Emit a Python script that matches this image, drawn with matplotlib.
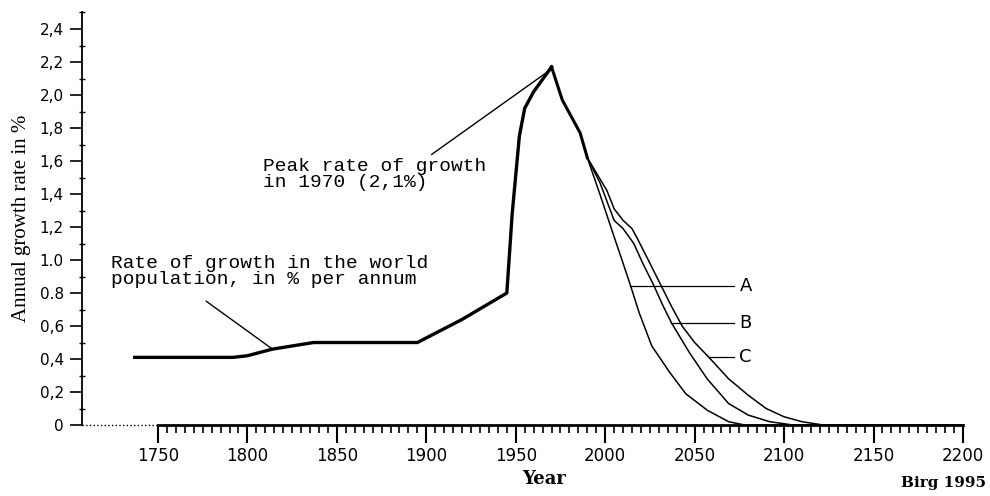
import matplotlib.pyplot as plt
from matplotlib.ticker import MultipleLocator, FixedLocator

# world population growth rate, % per annum
hist_years = [1737, 1792, 1800, 1814, 1837, 1846, 1895, 1920, 1945, 1948, 1952, 1955, 1960, 1970]
hist_rate = [0.41, 0.41, 0.42, 0.46, 0.50, 0.50, 0.50, 0.64, 0.80, 1.28, 1.75, 1.92, 2.02, 2.17]

common_years = [1970, 1976, 1986, 1990]
common_rate = [2.17, 1.97, 1.77, 1.62]

a_years = [1990, 1997, 2005, 2010, 2014, 2019, 2026, 2036, 2045, 2057, 2069, 2078, 2200]
a_rate = [1.62, 1.40, 1.14, 0.98, 0.85, 0.68, 0.48, 0.32, 0.19, 0.09, 0.02, 0.0, 0.0]

b_years = [1990, 1997, 2005, 2010, 2016, 2021, 2027, 2032, 2037, 2047, 2057, 2069, 2080, 2092, 2105, 2200]
b_rate = [1.62, 1.47, 1.24, 1.19, 1.10, 0.98, 0.85, 0.73, 0.62, 0.44, 0.28, 0.13, 0.06, 0.02, 0.0, 0.0]

c_years = [1990, 2001, 2005, 2010, 2015, 2018, 2025, 2031, 2037, 2043, 2050, 2058, 2069, 2080, 2090, 2100, 2110, 2122, 2200]
c_rate = [1.62, 1.42, 1.31, 1.24, 1.19, 1.13, 0.98, 0.85, 0.72, 0.60, 0.50, 0.41, 0.28, 0.18, 0.10, 0.05, 0.02, 0.0, 0.0]

scen_names = ['A', 'B', 'C']
scen_label_y = [0.84, 0.62, 0.41]
scen_label_x0 = [2014, 2037, 2058]

ytick_vals = [0, 0.2, 0.4, 0.6, 0.8, 1.0, 1.2, 1.4, 1.6, 1.8, 2.0, 2.2, 2.4]
ytick_text = ['0', '0,2', '0,4', '0,6', '0.8', '1.0', '1,2', '1,4', '1,6', '1,8', '2,0', '2,2', '2,4']
xtick_vals = [1750, 1800, 1850, 1900, 1950, 2000, 2050, 2100, 2150, 2200]

fig = plt.figure(figsize=(9.9, 4.96), dpi=100)
ax = fig.add_axes([0.0828, 0.1431, 0.8899, 0.8317])

ax.plot(hist_years, hist_rate, color='black', lw=2.4, solid_joinstyle='round')
ax.plot(common_years, common_rate, color='black', lw=2.2, solid_joinstyle='round')
for yrs, rate in [(a_years, a_rate), (b_years, b_rate), (c_years, c_rate)]:
    ax.plot(yrs, rate, color='black', lw=1.1)

# scenario labels
for name, yv, x0 in zip(scen_names, scen_label_y, scen_label_x0):
    ax.plot([x0, 2072], [yv, yv], color='black', lw=0.9)
    ax.text(2075, yv, name, fontsize=13, family='DejaVu Sans', va='center', ha='left')

# annotations
txt_font = dict(family='Liberation Mono', fontsize=14, linespacing=0.95)
ax.text(1808.5, 1.62, 'Peak rate of growth\nin 1970 (2,1%)', va='top', ha='left', **txt_font)
ax.plot([1903, 1969], [1.64, 2.15], color='black', lw=1.0)
ax.text(1724, 1.03, 'Rate of growth in the world\npopulation, in % per annum', va='top', ha='left', **txt_font)
ax.plot([1777, 1814], [0.75, 0.46], color='black', lw=1.0)

# axes look
ax.set_xlim(1707.5, 2200)
ax.set_ylim(0, 2.5)
ax.spines['top'].set_visible(False)
ax.spines['right'].set_visible(False)
ax.spines['bottom'].set_bounds(1750, 2200)
ax.spines['bottom'].set_linewidth(2.0)
ax.spines['left'].set_linewidth(1.3)
ax.plot([1707.5, 1750], [0, 0], color='black', lw=1.0, ls=':', clip_on=False)

ax.set_xticks(xtick_vals)
ax.set_xticklabels([str(v) for v in xtick_vals], fontsize=12, family='DejaVu Sans')
ax.xaxis.set_minor_locator(FixedLocator(list(range(1750, 2201, 5))))
ax.tick_params(axis='x', which='major', length=13, width=1.5, direction='out', pad=3)
ax.tick_params(axis='x', which='minor', length=6, width=1.2, direction='out')

ax.set_yticks(ytick_vals)
ax.set_yticklabels(ytick_text, fontsize=11, family='DejaVu Sans')
ax.yaxis.set_minor_locator(MultipleLocator(0.1))
ax.tick_params(axis='y', which='major', length=9, width=1.2, direction='out', pad=4)
ax.tick_params(axis='y', which='minor', length=4, width=1.0, direction='inout')

ax.set_ylabel('Annual growth rate in %', family='Liberation Serif', fontsize=15)
ax.yaxis.set_label_coords(-0.058, 0.5)
ax.set_xlabel('Year', family='DejaVu Serif', fontsize=13, fontweight='bold')
ax.xaxis.set_label_coords(0.524, -0.108)

fig.text(0.953, 0.012, 'Birg 1995', family='DejaVu Serif', fontsize=11, fontweight='bold',
         ha='center', va='bottom')

fig.savefig('out.png', dpi=100)
